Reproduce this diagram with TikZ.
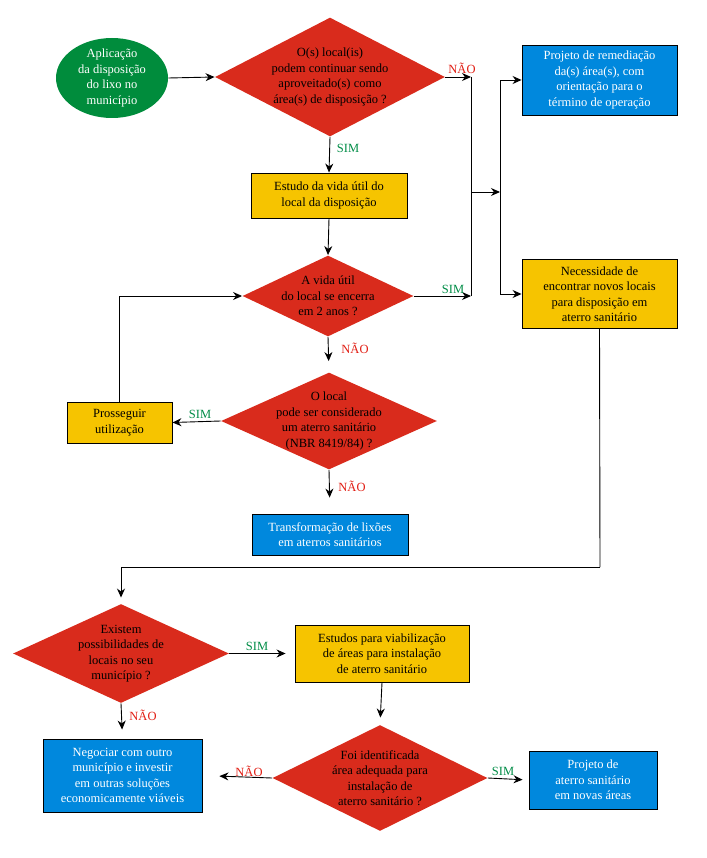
\documentclass[tikz,border=0pt]{standalone}
\usepackage{fontspec}
\setmainfont{Liberation Serif}
\usepackage{xcolor}
\usetikzlibrary{shapes.geometric,arrows.meta}

\definecolor{verde}{RGB}{0,140,60}
\definecolor{vermelho}{RGB}{217,43,28}
\definecolor{amarelo}{RGB}{246,196,0}
\definecolor{azul}{RGB}{0,136,221}
\definecolor{simcor}{RGB}{0,140,70}
\definecolor{naocor}{RGB}{225,30,20}

\begin{document}
\begin{tikzpicture}[x=1pt,y=-1pt,line width=0.9pt,
    font=\fontsize{12.5}{15.5}\selectfont,
    arr/.style={-{Stealth[length=9pt,width=8pt]},black},
    caixa/.style={draw=black,rectangle,align=center,inner sep=2pt},
    amar/.style={caixa,fill=amarelo,text=black},
    azl/.style={caixa,fill=azul,text=white},
    decisao/.style={diamond,fill=vermelho,inner sep=0pt},
    sim/.style={text=simcor},
    nao/.style={text=naocor}]
    \useasboundingbox (0,0) rectangle (706,858);

    % Start
    \node[ellipse,fill=verde,minimum width=112,minimum height=80,inner sep=0pt,
        label={[align=center,text=white]center:Aplicação\\da disposição\\do lixo no\\município}] (inicio) at (112,78) {};

    % Decisions
    \node[decisao,minimum width=230,minimum height=119,
        label={[align=center]center:O(s) local(is)\\podem continuar sendo\\aproveitado(s) como\\área(s) de disposição ?}] (d1) at (330,77) {};
    \node[decisao,minimum width=171,minimum height=81,
        label={[align=center]center:A vida útil\\do local se encerra\\em 2 anos ?}] (d2) at (328,296) {};
    \node[decisao,minimum width=216,minimum height=97,
        label={[align=center]center:O local\\pode ser  considerado\\um aterro sanitário\\(NBR 8419/84) ?}] (d3) at (329,421) {};
    \node[decisao,minimum width=216,minimum height=99,
        label={[align=center]center:Existem\\possibilidades de\\locais no seu\\município ?}] (d4) at (121,653.5) {};
    \node[decisao,minimum width=215,minimum height=106,
        label={[align=center]center:Foi identificada\\área adequada para\\instalação de\\aterro sanitário ?}] (d5) at (380,778) {};

    % Boxes
    \node[azl,minimum width=155,minimum height=70] (remed) at (599.5,80) {Projeto de remediação\\da(s) área(s), com\\orientação para o\\término de operação};
    \node[amar,minimum width=156,minimum height=45] (vida) at (329,195.5) {Estudo da vida útil do\\local da disposição};
    \node[amar,minimum width=155,minimum height=69] (novos) at (599.5,294) {Necessidade de\\encontrar novos locais\\para disposição em\\aterro sanitário};
    \node[amar,minimum width=105,minimum height=41] (prosseg) at (119.5,422.5) {Prosseguir\\utilização};
    \node[azl,minimum width=156,minimum height=41] (transf) at (330,534.5) {Transformação de lixões\\em aterros sanitários};
    \node[amar,minimum width=174,minimum height=57] (estudos) at (382,653.5) {Estudos para viabilização\\de áreas para instalação\\de aterro sanitário};
    \node[azl,minimum width=159,minimum height=73] (negoc) at (122.5,775.5) {Negociar com outro\\município e investir\\em outras soluções\\economicamente viáveis};
    \node[azl,minimum width=128,minimum height=58] (projeto) at (593,780) {Projeto de\\aterro sanitário\\em novas áreas};

    % Junctions
    \coordinate (j1) at (471,77);
    \coordinate (j2) at (471,296);
    \coordinate (jm) at (471,192);
    \coordinate (j3) at (500,192);
    \coordinate (j4) at (600,567);

    % Connectors
    \draw[arr] (inicio.east) -- (d1.west);
    \draw[arr] (d1.east) -- (j1);
    \draw (j1) -- (j2);
    \draw[arr] (d2.east) -- (j2);
    \draw[arr] (jm) -- (j3);
    \draw[arr] (j3) |- (remed.west);
    \draw[arr] (j3) |- (novos.west);
    \draw[arr] (d1.south) -- (vida.north);
    \draw[arr] (vida.south) -- (d2.north);
    \draw[arr,shorten >=11pt] (d2.south) -- (d3.north);
    \draw[arr] (d3.west) -- (prosseg.east);
    \draw[arr] (prosseg.north) |- (d2.west);
    \draw[arr,shorten >=16pt] (d3.south) -- (transf.north);
    \draw (novos.south) -- (j4);
    \draw[arr,shorten >=6pt] (j4) -| (d4.north);
    \draw[arr,shorten >=9pt] (d4.east) -- (estudos.west);
    \draw[arr,shorten >=9pt] (d4.south) -- (negoc.north);
    \draw[arr,shorten >=7pt] (estudos.south) -- (d5.north);
    \draw[arr,shorten >=17pt] (d5.west) -- (negoc.east);
    \draw[arr,shorten >=6pt] (d5.east) -- (projeto.west);

    % Labels
    \node[nao] (n1) at (462,68) {NÃO};
    \node[sim] (s1) at (348,148) {SIM};
    \node[sim] (s2) at (453,289) {SIM};
    \node[nao] (n2) at (355,348) {NÃO};
    \node[sim] (s3) at (200,414) {SIM};
    \node[nao] (n3) at (352,486) {NÃO};
    \node[sim] (s4) at (257,646) {SIM};
    \node[nao] (n4) at (143,715) {NÃO};
    \node[nao] (n5) at (249,771) {NÃO};
    \node[sim] (s5) at (503,771) {SIM};
\end{tikzpicture}
\end{document}
